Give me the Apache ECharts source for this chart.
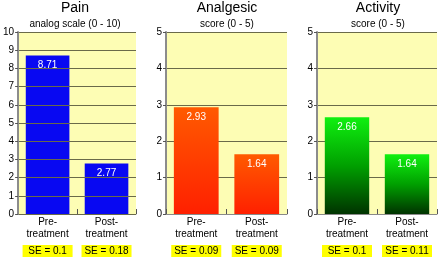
<!DOCTYPE html>
<html>
<head>
<meta charset="utf-8">
<script src="https://cdn.jsdelivr.net/npm/echarts@6/dist/echarts.min.js"></script>
<style>
html,body{margin:0;padding:0;background:#fff;}
#c{width:440px;height:259px;}
</style>
</head>
<body>
<div id="c"></div>
<script>
const categories = ['Pre-\ntreatment', 'Post-\ntreatment'];
const painValues = [8.71, 2.77];
const analgesicValues = [2.93, 1.64];
const activityValues = [2.66, 1.64];
const painSE = ['SE = 0.1', 'SE = 0.18'];
const analgesicSE = ['SE = 0.09', 'SE = 0.09'];
const activitySE = ['SE = 0.1', 'SE = 0.11'];
const panelTitles = ['Pain', 'Analgesic', 'Activity'];
const panelSubtitles = ['analog scale (0 - 10)', 'score (0 - 5)', 'score (0 - 5)'];
const yMaxima = [10, 5, 5];

const FONT = '"Liberation Sans", Arial, Helvetica, sans-serif';
const values = [painValues, analgesicValues, activityValues];
const seLabels = [painSE, analgesicSE, activitySE];
const gridDefs = [
  {left: 15, width: 121, center: 75},
  {left: 166, width: 121, center: 227},
  {left: 317, width: 120, center: 378}
];
const colors = [
  '#0808f2',
  new echarts.graphic.LinearGradient(0, 0, 0, 1, [{offset: 0, color: '#ff5a00'}, {offset: 1, color: '#ff2000'}]),
  new echarts.graphic.LinearGradient(0, 0, 0, 1, [{offset: 0, color: '#10f010'}, {offset: 0.5, color: '#00a000'}, {offset: 1, color: '#003300'}])
];

const chart = echarts.init(document.getElementById('c'), null, {renderer: 'canvas'});
const option = {
  animation: false,
  backgroundColor: '#ffffff',
  title: [],
  grid: [],
  xAxis: [],
  yAxis: [],
  series: []
};
gridDefs.forEach((g, i) => {
  option.title.push({
    text: panelTitles[i],
    subtext: panelSubtitles[i],
    left: g.center, top: 1, textAlign: 'center', padding: 0, itemGap: 4,
    textStyle: {fontFamily: FONT, fontSize: 14, fontWeight: 'normal', color: '#000'},
    subtextStyle: {fontFamily: FONT, fontSize: 10, color: '#000'}
  });
  option.grid.push({
    left: g.left, top: 32, width: g.width, height: 182,
    show: true, backgroundColor: '#fdfdb4', borderWidth: 0
  });
  option.xAxis.push({
    type: 'category', gridIndex: i, data: categories, boundaryGap: true,
    axisLine: {show: true, lineStyle: {color: '#8a8a8a', width: 1}},
    axisTick: {show: true, inside: true, length: 5, lineStyle: {color: '#555'}},
    axisLabel: {fontFamily: FONT, fontSize: 10, lineHeight: 12, margin: 2, color: '#000', interval: 0}
  });
  option.xAxis.push({
    type: 'category', gridIndex: i, data: seLabels[i], position: 'bottom', offset: 31,
    axisLine: {show: false}, axisTick: {show: false},
    axisLabel: {
      margin: 0, interval: 0,
      formatter: v => '{b|' + v + '}',
      rich: {b: {fontFamily: FONT, fontSize: 10, color: '#000', backgroundColor: '#ffff00', width: 44, height: 12, lineHeight: 12, padding: [0, 3], align: 'center'}}
    }
  });
  option.yAxis.push({
    type: 'value', gridIndex: i, min: 0, max: yMaxima[i], interval: 1,
    z: i === 0 ? 3 : 0,
    axisLine: {show: true, lineStyle: {color: '#8c8c8c', width: 2}},
    axisTick: {show: true, length: 3, lineStyle: {color: '#555'}},
    axisLabel: {fontFamily: FONT, fontSize: 10, margin: 4, color: '#000'},
    splitLine: {show: true, lineStyle: {color: '#6a6a4a', width: 1}}
  });
  option.series.push({
    type: 'bar', xAxisIndex: i * 2, yAxisIndex: i, data: values[i],
    barCategoryGap: '26%',
    itemStyle: {color: colors[i]},
    label: {show: true, position: 'insideTop', distance: 5, color: '#fff', fontFamily: FONT, fontSize: 10,
      formatter: p => p.value.toFixed(2)}
  });
});
chart.setOption(option);
</script>
</body>
</html>
